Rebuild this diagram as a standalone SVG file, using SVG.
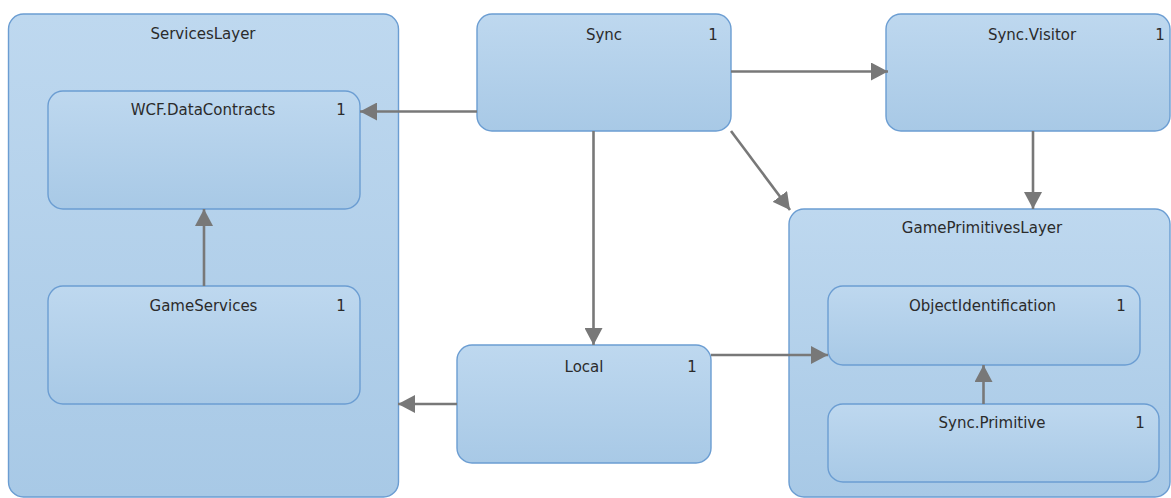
<svg xmlns="http://www.w3.org/2000/svg" width="1171" height="498" viewBox="0 0 1171 498">
  <style>
    .box { fill: url(#boxFill); stroke: #6b9dd2; stroke-width: 1.4; }
    .title { font-family: "DejaVu Sans", Verdana, sans-serif; font-size: 15px; fill: #2b2b2b; text-anchor: middle; }
    .count { font-family: "DejaVu Sans", Verdana, sans-serif; font-size: 15px; fill: #2b2b2b; text-anchor: middle; }
    .link { stroke: #787878; stroke-width: 2.6; fill: none; marker-end: url(#arrow); }
  </style>
  <defs>
    <linearGradient id="boxFill" x1="0" y1="0" x2="0" y2="1">
      <stop offset="0" stop-color="#bed8ef"/>
      <stop offset="1" stop-color="#a8c9e6"/>
    </linearGradient>
    <marker id="arrow" markerUnits="userSpaceOnUse" markerWidth="18" markerHeight="18" refX="17" refY="9" orient="auto" viewBox="0 0 18 18">
      <path d="M0,0 L17,9 L0,18 Z" fill="#787878"/>
    </marker>
  </defs>

  <rect width="1171" height="498" fill="#ffffff"/>

  <!-- containers -->
  <g id="ServicesLayer">
    <rect class="box" x="8.5" y="14" width="390" height="483" rx="15"/>
    <text class="title" x="203" y="39">ServicesLayer</text>
  </g>
  <g id="GamePrimitivesLayer">
    <rect class="box" x="789" y="209" width="381" height="288" rx="15"/>
    <text class="title" x="982" y="233">GamePrimitivesLayer</text>
  </g>

  <!-- nodes -->
  <g id="WCF.DataContracts">
    <rect class="box" x="48" y="91" width="312" height="118" rx="15"/>
    <text class="title" x="203" y="115">WCF.DataContracts</text>
    <text class="count" x="341" y="115">1</text>
  </g>
  <g id="GameServices">
    <rect class="box" x="48" y="286" width="312" height="118" rx="15"/>
    <text class="title" x="203.5" y="311">GameServices</text>
    <text class="count" x="341" y="311">1</text>
  </g>
  <g id="Sync">
    <rect class="box" x="477" y="14" width="254" height="117" rx="15"/>
    <text class="title" x="604" y="40">Sync</text>
    <text class="count" x="713" y="40">1</text>
  </g>
  <g id="Sync.Visitor">
    <rect class="box" x="886" y="14" width="284" height="117" rx="15"/>
    <text class="title" x="1032" y="40">Sync.Visitor</text>
    <text class="count" x="1160" y="40">1</text>
  </g>
  <g id="Local">
    <rect class="box" x="457" y="345" width="254" height="118" rx="15"/>
    <text class="title" x="584" y="372">Local</text>
    <text class="count" x="692" y="372">1</text>
  </g>
  <g id="ObjectIdentification">
    <rect class="box" x="828" y="286" width="312" height="79" rx="15"/>
    <text class="title" x="982.5" y="311">ObjectIdentification</text>
    <text class="count" x="1121" y="311">1</text>
  </g>
  <g id="Sync.Primitive">
    <rect class="box" x="828" y="404" width="331" height="78" rx="15"/>
    <text class="title" x="992" y="428">Sync.Primitive</text>
    <text class="count" x="1140" y="428">1</text>
  </g>

  <!-- connectors -->
  <g id="connectors">
    <line class="link" x1="477" y1="111.5" x2="360" y2="111.5"/>
    <line class="link" x1="731" y1="71.5" x2="888" y2="71.5"/>
    <line class="link" x1="731" y1="131" x2="790" y2="210"/>
    <line class="link" x1="593.5" y1="131" x2="593.5" y2="345"/>
    <line class="link" x1="1033" y1="131" x2="1033" y2="209"/>
    <line class="link" x1="204" y1="286" x2="204" y2="209"/>
    <line class="link" x1="711" y1="355" x2="828" y2="355"/>
    <line class="link" x1="457" y1="404" x2="398" y2="404"/>
    <line class="link" x1="983.5" y1="404" x2="983.5" y2="365"/>
  </g>
</svg>
